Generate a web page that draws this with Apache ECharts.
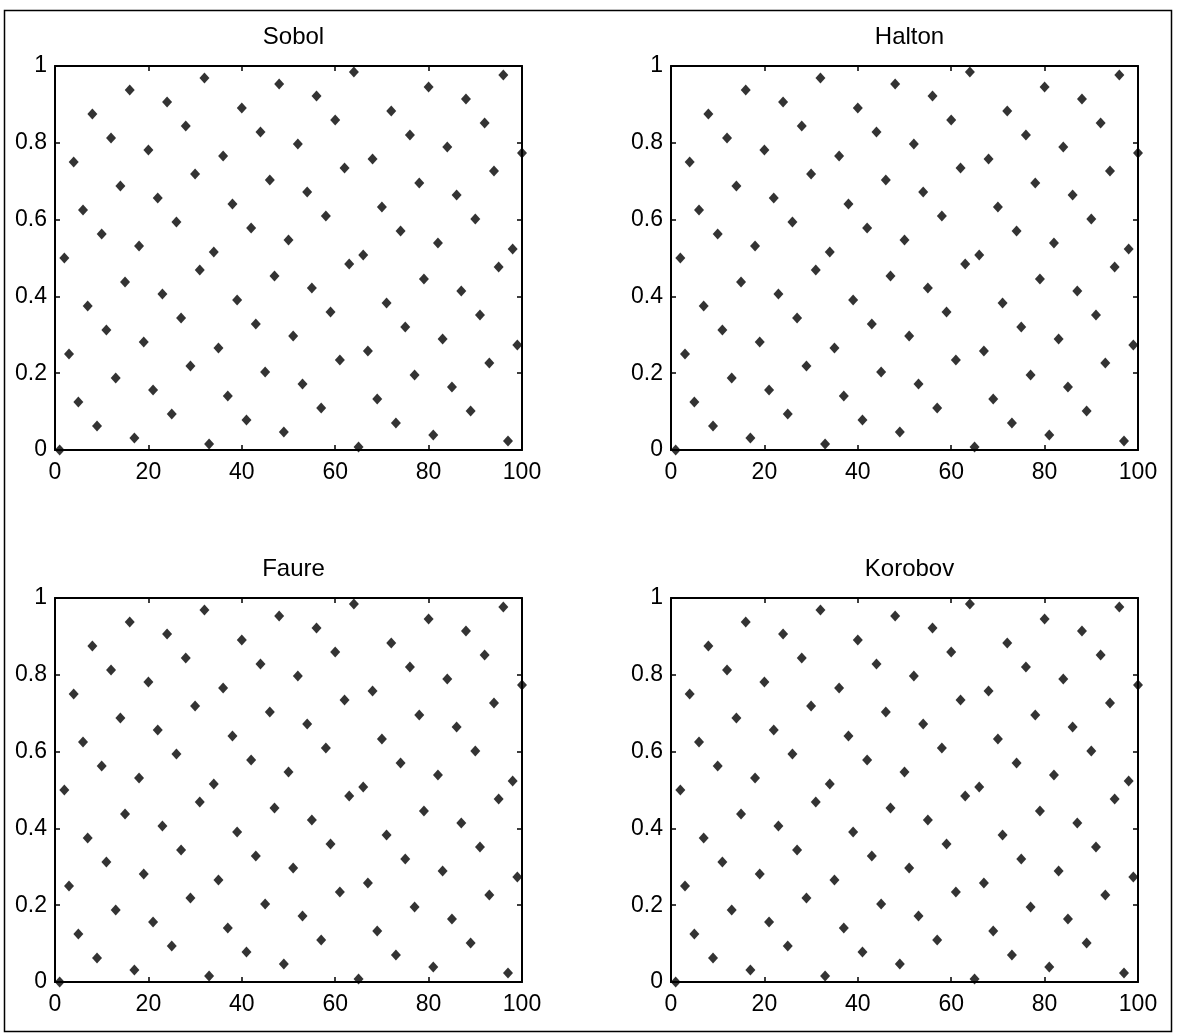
<!DOCTYPE html>
<html>
<head>
<meta charset="utf-8">
<script src="https://cdn.jsdelivr.net/npm/echarts@6/dist/echarts.min.js"></script>
<style>
html,body{margin:0;padding:0;background:#fff;}
#chart{width:1177px;height:1035px;}
</style>
</head>
<body>
<div id="chart"></div>
<script>
var titles = ['Sobol', 'Halton', 'Faure', 'Korobov'];
var xTicks = [0, 20, 40, 60, 80, 100];
var yTicks = [0, 0.2, 0.4, 0.6, 0.8, 1];

var xIndex = [1,2,3,4,5,6,7,8,9,10,11,12,13,14,15,16,17,18,19,20,
21,22,23,24,25,26,27,28,29,30,31,32,33,34,35,36,37,38,39,40,
41,42,43,44,45,46,47,48,49,50,51,52,53,54,55,56,57,58,59,60,
61,62,63,64,65,66,67,68,69,70,71,72,73,74,75,76,77,78,79,80,
81,82,83,84,85,86,87,88,89,90,91,92,93,94,95,96,97,98,99,100];

var sobolY = [0,0.5,0.25,0.75,0.125,0.625,0.375,0.875,0.0625,0.5625,0.3125,0.8125,0.1875,0.6875,0.4375,0.9375,
0.0313,0.5313,0.2813,0.7813,0.1563,0.6563,0.4063,0.9063,0.0938,0.5938,0.3438,0.8438,0.2188,0.7188,0.4688,0.9688,
0.0156,0.5156,0.2656,0.7656,0.1406,0.6406,0.3906,0.8906,0.0781,0.5781,0.3281,0.8281,0.2031,0.7031,0.4531,0.9531,
0.0469,0.5469,0.2969,0.7969,0.1719,0.6719,0.4219,0.9219,0.1094,0.6094,0.3594,0.8594,0.2344,0.7344,0.4844,0.9844,
0.0078,0.5078,0.2578,0.7578,0.1328,0.6328,0.3828,0.8828,0.0703,0.5703,0.3203,0.8203,0.1953,0.6953,0.4453,0.9453,
0.0391,0.5391,0.2891,0.7891,0.1641,0.6641,0.4141,0.9141,0.1016,0.6016,0.3516,0.8516,0.2266,0.7266,0.4766,0.9766,
0.0234,0.5234,0.2734,0.7734];

var haltonY = [0,0.5,0.25,0.75,0.125,0.625,0.375,0.875,0.0625,0.5625,0.3125,0.8125,0.1875,0.6875,0.4375,0.9375,
0.0313,0.5313,0.2813,0.7813,0.1563,0.6563,0.4063,0.9063,0.0938,0.5938,0.3438,0.8438,0.2188,0.7188,0.4688,0.9688,
0.0156,0.5156,0.2656,0.7656,0.1406,0.6406,0.3906,0.8906,0.0781,0.5781,0.3281,0.8281,0.2031,0.7031,0.4531,0.9531,
0.0469,0.5469,0.2969,0.7969,0.1719,0.6719,0.4219,0.9219,0.1094,0.6094,0.3594,0.8594,0.2344,0.7344,0.4844,0.9844,
0.0078,0.5078,0.2578,0.7578,0.1328,0.6328,0.3828,0.8828,0.0703,0.5703,0.3203,0.8203,0.1953,0.6953,0.4453,0.9453,
0.0391,0.5391,0.2891,0.7891,0.1641,0.6641,0.4141,0.9141,0.1016,0.6016,0.3516,0.8516,0.2266,0.7266,0.4766,0.9766,
0.0234,0.5234,0.2734,0.7734];

var faureY = [0,0.5,0.25,0.75,0.125,0.625,0.375,0.875,0.0625,0.5625,0.3125,0.8125,0.1875,0.6875,0.4375,0.9375,
0.0313,0.5313,0.2813,0.7813,0.1563,0.6563,0.4063,0.9063,0.0938,0.5938,0.3438,0.8438,0.2188,0.7188,0.4688,0.9688,
0.0156,0.5156,0.2656,0.7656,0.1406,0.6406,0.3906,0.8906,0.0781,0.5781,0.3281,0.8281,0.2031,0.7031,0.4531,0.9531,
0.0469,0.5469,0.2969,0.7969,0.1719,0.6719,0.4219,0.9219,0.1094,0.6094,0.3594,0.8594,0.2344,0.7344,0.4844,0.9844,
0.0078,0.5078,0.2578,0.7578,0.1328,0.6328,0.3828,0.8828,0.0703,0.5703,0.3203,0.8203,0.1953,0.6953,0.4453,0.9453,
0.0391,0.5391,0.2891,0.7891,0.1641,0.6641,0.4141,0.9141,0.1016,0.6016,0.3516,0.8516,0.2266,0.7266,0.4766,0.9766,
0.0234,0.5234,0.2734,0.7734];

var korobovY = [0,0.5,0.25,0.75,0.125,0.625,0.375,0.875,0.0625,0.5625,0.3125,0.8125,0.1875,0.6875,0.4375,0.9375,
0.0313,0.5313,0.2813,0.7813,0.1563,0.6563,0.4063,0.9063,0.0938,0.5938,0.3438,0.8438,0.2188,0.7188,0.4688,0.9688,
0.0156,0.5156,0.2656,0.7656,0.1406,0.6406,0.3906,0.8906,0.0781,0.5781,0.3281,0.8281,0.2031,0.7031,0.4531,0.9531,
0.0469,0.5469,0.2969,0.7969,0.1719,0.6719,0.4219,0.9219,0.1094,0.6094,0.3594,0.8594,0.2344,0.7344,0.4844,0.9844,
0.0078,0.5078,0.2578,0.7578,0.1328,0.6328,0.3828,0.8828,0.0703,0.5703,0.3203,0.8203,0.1953,0.6953,0.4453,0.9453,
0.0391,0.5391,0.2891,0.7891,0.1641,0.6641,0.4141,0.9141,0.1016,0.6016,0.3516,0.8516,0.2266,0.7266,0.4766,0.9766,
0.0234,0.5234,0.2734,0.7734];

var seriesY = [sobolY, haltonY, faureY, korobovY];

var FONT = "'Liberation Sans', Arial, Helvetica, sans-serif";
var FS = 23;
var grids = [
  {left: 55, top: 66, width: 467, height: 384},
  {left: 671, top: 66, width: 467, height: 384},
  {left: 55, top: 598, width: 467, height: 384},
  {left: 671, top: 598, width: 467, height: 384}
];

var option = {
  animation: false,
  backgroundColor: '#fff',
  title: [],
  grid: [],
  xAxis: [],
  yAxis: [],
  series: [],
  graphic: [{
    type: 'rect',
    shape: {x: 4.5, y: 10.5, width: 1167, height: 1021},
    style: {fill: 'none', stroke: '#000', lineWidth: 1.5},
    silent: true
  }]
};

var lineStyle = {color: '#000', width: 2};
grids.forEach(function (g, k) {
  option.grid.push({left: g.left, top: g.top, width: g.width, height: g.height, containLabel: false});
  option.title.push({
    text: titles[k],
    left: g.left + g.width / 2,
    top: g.top - 46,
    textAlign: 'center',
    textStyle: {fontFamily: FONT, fontSize: 24, fontWeight: 'normal', color: '#000'}
  });
  var xMain = {
    type: 'value', gridIndex: k, position: 'bottom', min: xTicks[0], max: xTicks[xTicks.length - 1],
    interval: xTicks[1] - xTicks[0],
    axisLine: {show: true, onZero: false, lineStyle: lineStyle},
    axisTick: {show: true, inside: true, length: 5, lineStyle: {color: '#000', width: 1.5}},
    axisLabel: {show: true, margin: 11, color: '#000', fontFamily: FONT, fontSize: FS},
    splitLine: {show: false}
  };
  var xTop = JSON.parse(JSON.stringify(xMain));
  xTop.position = 'top';
  xTop.axisLabel = {show: false};
  var yMain = {
    type: 'value', gridIndex: k, position: 'left', min: yTicks[0], max: yTicks[yTicks.length - 1],
    interval: 0.2,
    axisLine: {show: true, onZero: false, lineStyle: lineStyle},
    axisTick: {show: true, inside: true, length: 5, lineStyle: {color: '#000', width: 1.5}},
    axisLabel: {show: true, margin: 8, color: '#000', fontFamily: FONT, fontSize: FS},
    splitLine: {show: false}
  };
  var yRight = JSON.parse(JSON.stringify(yMain));
  yRight.position = 'right';
  yRight.axisLabel = {show: false};
  option.xAxis.push(xMain, xTop);
  option.yAxis.push(yMain, yRight);
  var data = xIndex.map(function (x, i) { return [x, seriesY[k][i]]; });
  option.series.push({
    type: 'scatter',
    name: titles[k],
    xAxisIndex: 2 * k,
    yAxisIndex: 2 * k,
    data: data,
    symbol: 'diamond',
    symbolSize: [10, 11],
    clip: false,
    itemStyle: {color: '#000'},
    z: 5
  });
});

var chart = echarts.init(document.getElementById('chart'), null, {renderer: 'canvas'});
chart.setOption(option);
</script>
</body>
</html>
